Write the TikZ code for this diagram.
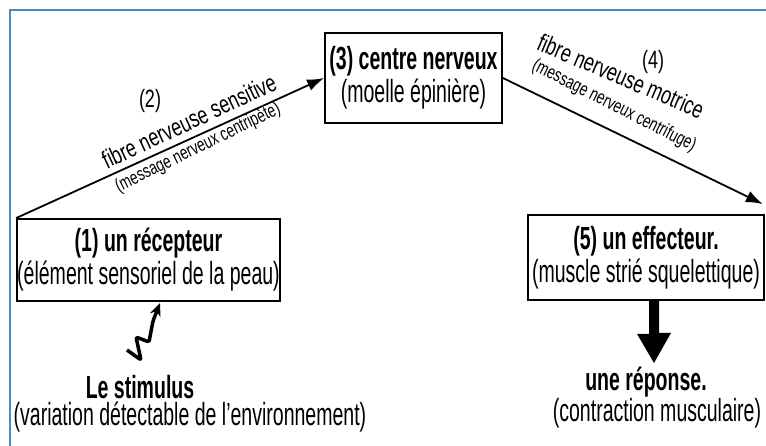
\documentclass[tikz,border=0pt]{standalone}
\usepackage{fontspec}
\setmainfont{Liberation Sans}[FakeStretch=0.61]
\newfontfamily\lblfont{Liberation Sans}[FakeStretch=0.72]
\usetikzlibrary{arrows.meta,calc}
\definecolor{framecol}{RGB}{79,134,198}
\begin{document}
\begin{tikzpicture}[x=1pt,y=-1pt,
  box/.style={draw, line width=1.8pt, inner sep=0pt, align=center,
    font=\fontsize{32}{33}\selectfont},
  arr/.style={line width=1.8pt, -{Latex[length=17pt,width=12pt]}},
  lblbig/.style={inner sep=0pt, font=\lblfont\fontsize{25}{25}\selectfont},
  lblsmall/.style={inner sep=0pt, font=\lblfont\fontsize{19}{19}\selectfont},
  plain/.style={inner sep=0pt, font=\fontsize{32}{33}\selectfont}]
\useasboundingbox (0,0) rectangle (766,446);
\draw[framecol, line width=2.4pt] (766,10) -- (10,10) -- (10,446);

\node[box, minimum width=263pt, minimum height=82pt] (box1) at (148.5,260)
  {\textbf{(1) un récepteur}\\(élément sensoriel de la peau)};
\node[box, minimum width=177pt, minimum height=90pt] (box3) at (413.5,78)
  {\textbf{(3) centre nerveux}\\(moelle épinière)};
\node[box, minimum width=236pt, minimum height=85pt] (box5) at (646,257.5)
  {\textbf{(5) un effecteur.}\\(muscle strié squelettique)};

\draw[arr] (box1.north west) -- (box3.west);
\draw[arr] (box3.east) -- ($(box5.north east)+(-2,-10)$);

\node[lblbig] (l2) at (150,101) {(2)};
\node[lblbig, rotate=25] (l2a) at (189,121) {fibre nerveuse sensitive};
\node[lblsmall, rotate=26] (l2b) at (198,148) {(message nerveux centripète)};

\node[lblbig] (l4) at (653,62) {(4)};
\node[lblbig, rotate=-23] (l4a) at (621,76) {fibre nerveuse motrice};
\node[lblsmall, rotate=-27] (l4b) at (614,106) {(message nerveux centrifuge)};

\node[plain] (stim) at (140,387) {\textbf{Le stimulus}};
\node[plain] (stimb) at (190,417) {(variation détectable de l'environnement)};
\node[plain] (rep) at (646,382) {\textbf{une réponse.}};
\node[plain] (repb) at (657,413) {(contraction musculaire)};

\coordinate (w0) at (127,350);
\coordinate (wtip) at (160,303);
\draw[line width=3.5pt, rounded corners=2pt, line join=round,
  -{Stealth[length=13pt,width=11pt]}]
  (w0) -- (141,360) -- (136,337) -- (149,342) -- (153,321) -- (wtip);

\coordinate (rtip) at (654,363);
\fill ($(box5.south -| rtip)+(-5,0)$) -- ++(0,33) -- ++(-12,0) -- (rtip)
  -- ++(17,-30) -- ++(-12,0) -- ++(0,-33) -- cycle;
\end{tikzpicture}
\end{document}
